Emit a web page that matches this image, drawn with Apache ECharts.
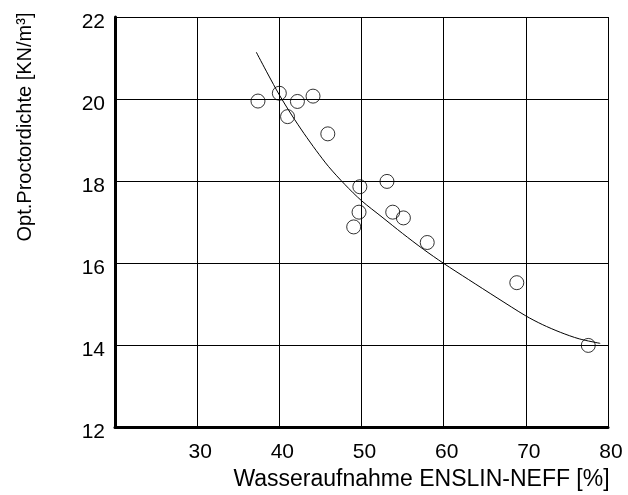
<!DOCTYPE html>
<html>
<head>
<meta charset="utf-8">
<script src="https://cdn.jsdelivr.net/npm/echarts@6/dist/echarts.min.js"></script>
<style>
  html, body { margin: 0; padding: 0; background: #fff; }
  #chart { width: 628px; height: 495px; }
</style>
</head>
<body>
<div id="chart"></div>
<script>
// Water absorption (Enslin-Neff) vs. optimum Proctor density, measured samples
const waterAbsorption = [37.4, 40.0, 42.2, 44.1, 41.0, 45.9, 49.8, 53.1, 49.7, 49.05, 53.8, 55.1, 58.0, 68.9, 77.6];
const proctorDensity  = [19.95, 20.14, 19.94, 20.07, 19.57, 19.15, 17.86, 17.99, 17.24, 16.88, 17.24, 17.10, 16.50, 15.52, 13.99];

// Trend curve through the samples
const trendX = [37.2, 38.6, 40.0, 41.5, 43.0, 44.5, 46.0, 48.0, 50.0, 52.5, 55.0, 57.5, 60.0, 63.0, 66.5, 70.0, 72.0, 74.2, 76.5, 79.05];
const trendY = [21.14, 20.61, 20.10, 19.61, 19.16, 18.74, 18.35, 17.91, 17.52, 17.12, 16.72, 16.34, 15.99, 15.60, 15.15, 14.71, 14.50, 14.31, 14.15, 14.04];

// Axis tick labels
const xTickLabels = [30, 40, 50, 60, 70, 80];
const yTickLabels = [12, 14, 16, 18, 20, 22];

const xTitle = 'Wasseraufnahme ENSLIN-NEFF [%]';
const yTitle = 'Opt.Proctordichte [KN/m³]';

const FONT = '"Liberation Sans", Arial, Helvetica, sans-serif';

const chart = echarts.init(document.getElementById('chart'), null, { renderer: 'canvas' });

chart.setOption({
  backgroundColor: '#ffffff',
  animation: false,
  grid: { left: 115, right: 20, top: 17, bottom: 68, containLabel: false, outerBoundsMode: 'none' },
  xAxis: {
    type: 'value',
    min: 20, max: 80, interval: 10,
    name: xTitle,
    nameLocation: 'middle',
    nameGap: 41,
    nameTextStyle: { fontFamily: FONT, fontSize: 23, color: '#000', padding: [0, 0, 0, 120] },
    axisLine: { show: true, onZero: false, lineStyle: { color: '#000', width: 3 } },
    axisTick: { show: false },
    axisLabel: {
      fontFamily: FONT, fontSize: 21, color: '#000', margin: 15,
      formatter: v => xTickLabels.includes(v) ? '{t|' + v + '}' : '',
      rich: { t: { fontFamily: FONT, fontSize: 21, color: '#000', padding: [0, 0, 0, 6] } }
    },
    splitLine: { show: true, lineStyle: { color: '#000', width: 1 } }
  },
  yAxis: {
    type: 'value',
    min: 12, max: 22, interval: 2,
    name: yTitle,
    nameLocation: 'middle',
    nameRotate: 90,
    nameGap: 80,
    nameTextStyle: { fontFamily: FONT, fontSize: 20, color: '#000', padding: [0, 0, 0, 190] },
    axisLine: { show: true, onZero: false, lineStyle: { color: '#000', width: 3 } },
    axisTick: { show: false },
    axisLabel: {
      fontFamily: FONT, fontSize: 21, color: '#000', margin: 10,
      formatter: v => yTickLabels.includes(v) ? '{t|' + v + '}' : '',
      rich: { t: { fontFamily: FONT, fontSize: 21, color: '#000', padding: [11, 0, 0, 0] } }
    },
    splitLine: { show: true, lineStyle: { color: '#000', width: 1 } }
  },
  series: [
    {
      type: 'line',
      data: trendX.map((x, i) => [x, trendY[i]]),
      smooth: 0.3,
      showSymbol: false,
      lineStyle: { color: '#000', width: 1 },
      z: 2
    },
    {
      type: 'scatter',
      data: waterAbsorption.map((x, i) => [x, proctorDensity[i]]),
      symbol: 'circle',
      symbolSize: 14,
      itemStyle: { color: 'rgba(255,255,255,0)', borderColor: '#000', borderWidth: 1 },
      z: 3
    }
  ]
});
</script>
</body>
</html>
